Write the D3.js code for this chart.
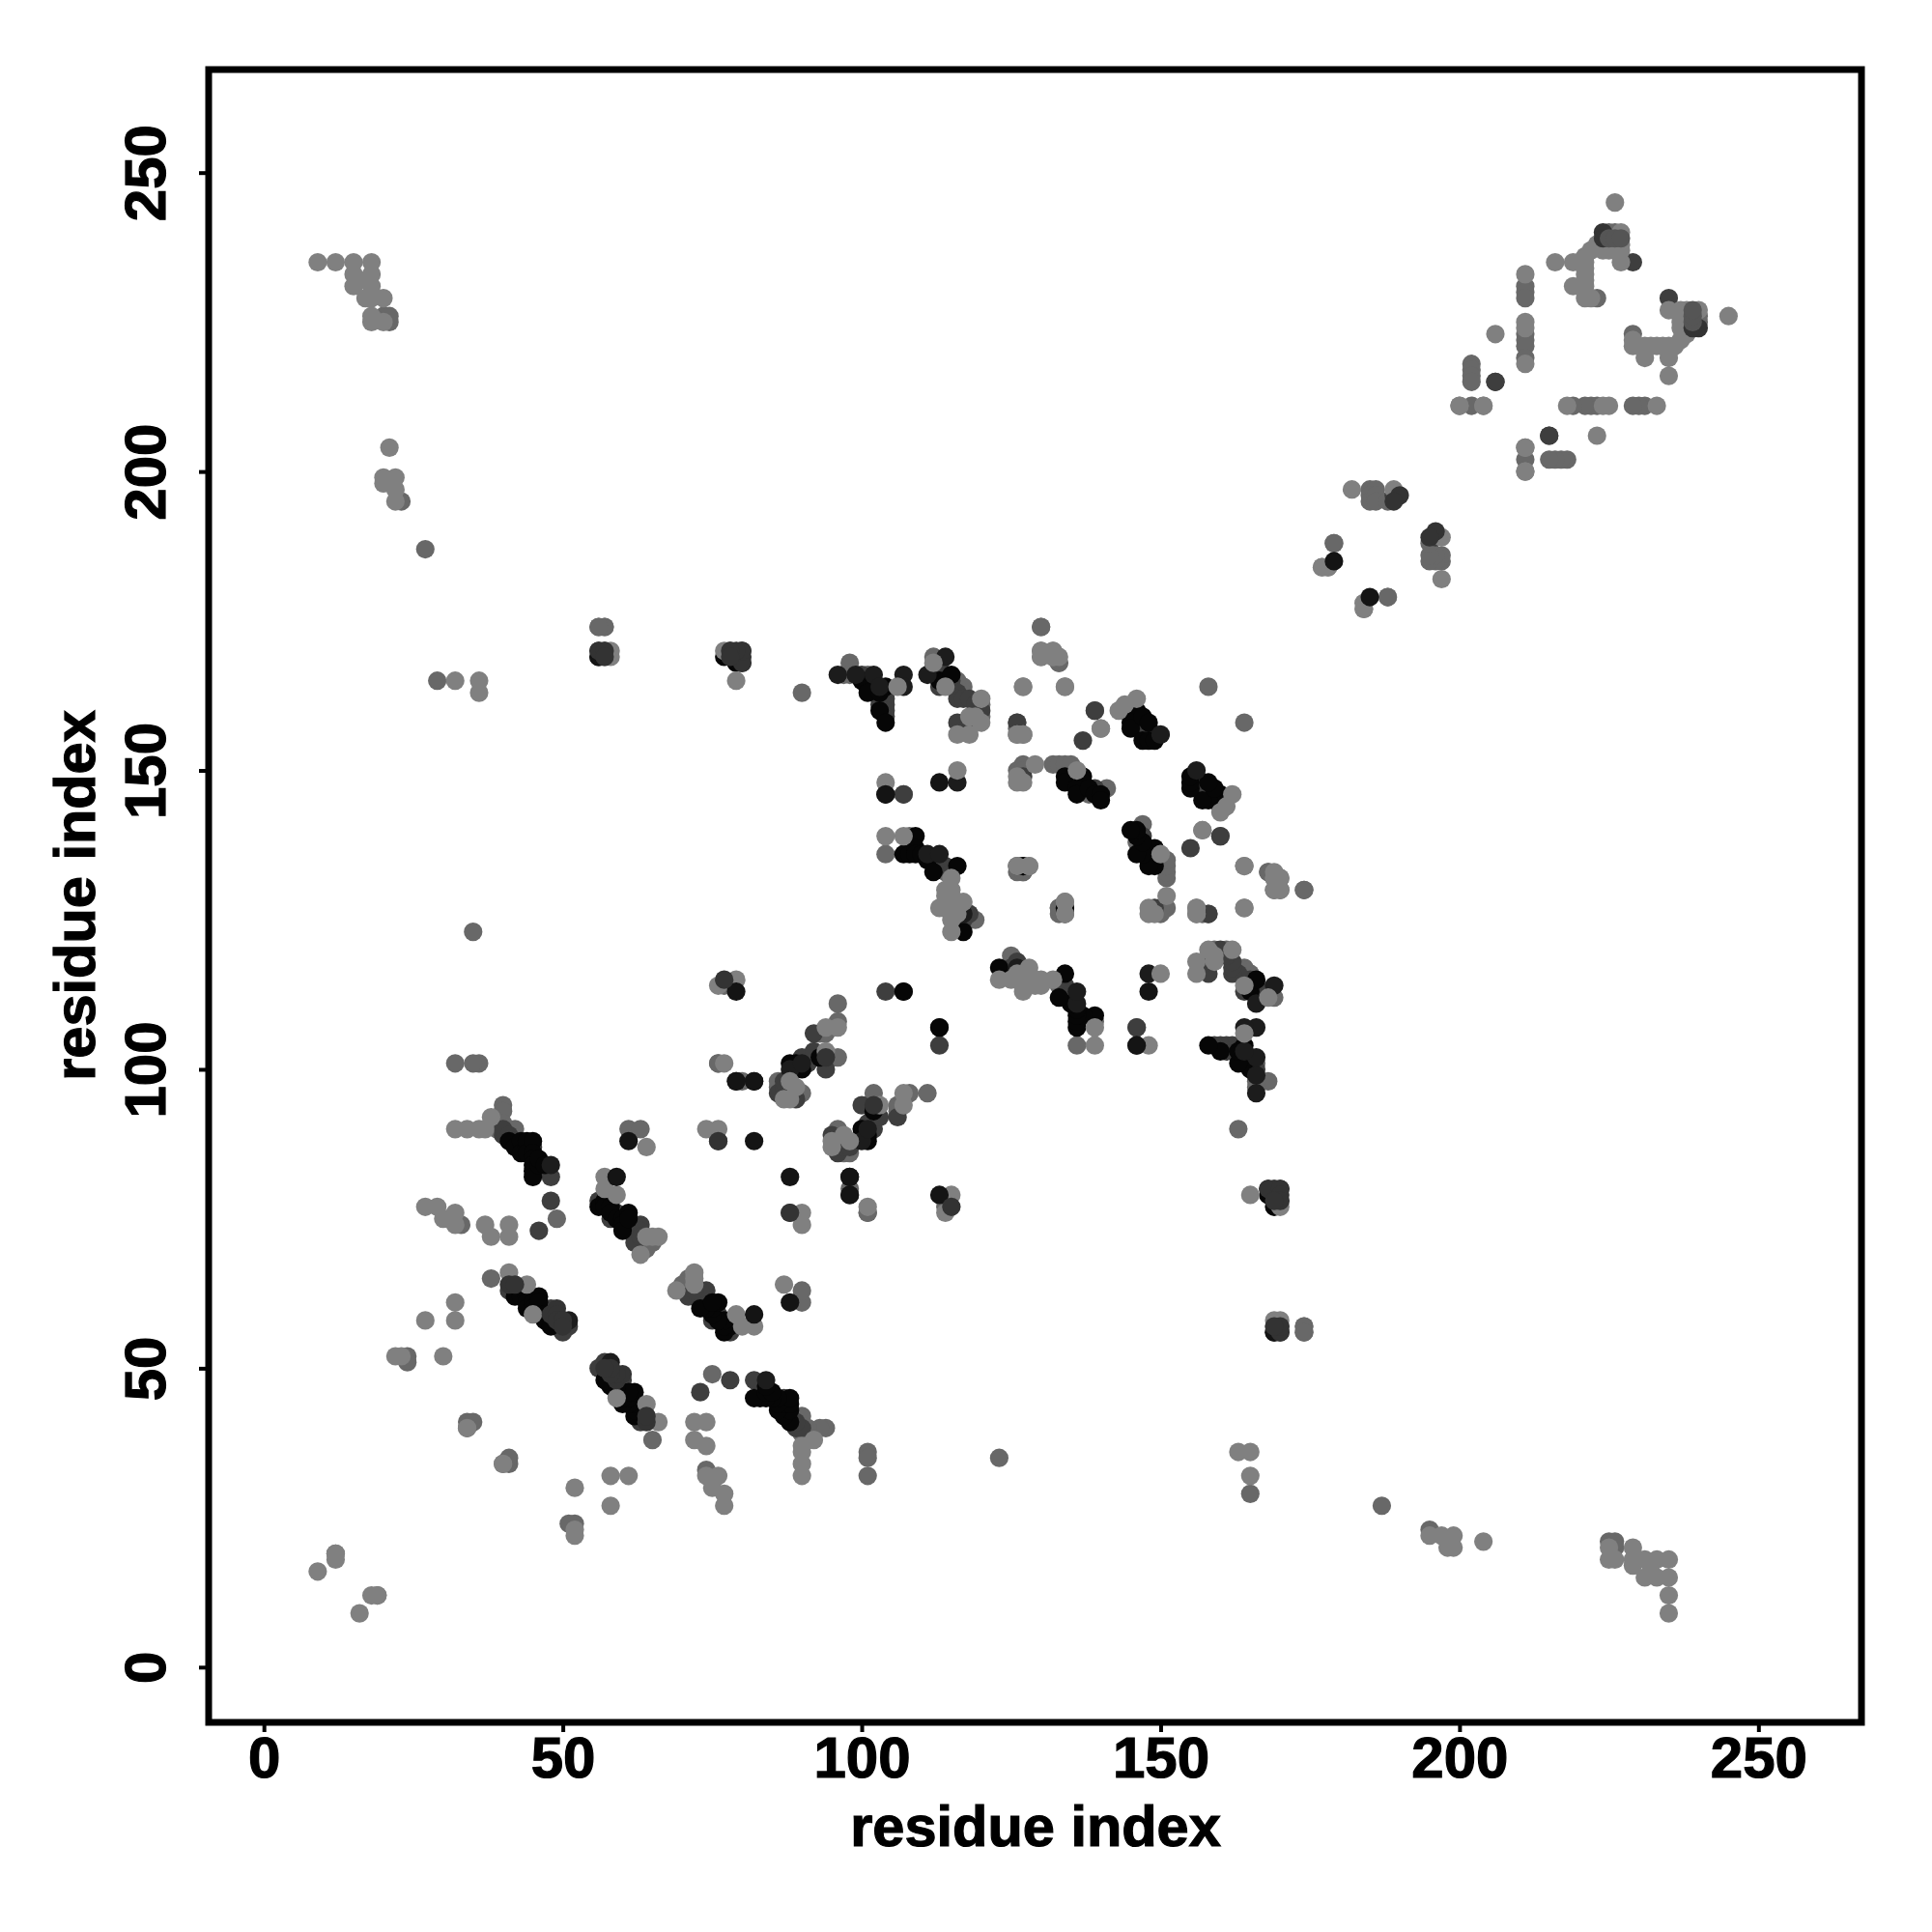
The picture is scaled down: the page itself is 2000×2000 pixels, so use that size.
<!DOCTYPE html>
<html>
<head>
<meta charset="utf-8">
<style>html,body{margin:0;padding:0;background:#fff}svg{display:block}</style>
<script src="https://cdn.jsdelivr.net/npm/d3@7"></script>
</head>
<body>
<script>
// Contact pairs [i, j] with i < j; the map is symmetric, so each pair is drawn at (i,j) and (j,i).
const lightPairs = [[9,16],[12,18],[9,235],[12,235],[15,235],[18,235],[15,233],[18,233],[15,231],[16,232],[18,231],[17,229],[18,229],[20,229],[18,226],[18,225],[20,225],[21,204],[20,199],[22,199],[20,198],[22,197],[22,195],[32,165],[36,165],[36,163],[22,52],[23,52],[30,52],[27,58],[32,58],[32,61],[34,40],[27,77],[29,77],[30,75],[32,76],[32,74],[37,74],[38,72],[41,74],[41,72],[32,90],[34,90],[36,90],[38,92],[37,90],[41,66],[44,64],[45,59],[57,82],[57,80],[59,79],[66,72],[64,72],[65,72],[63,69],[64,87],[74,90],[76,90],[76,114],[79,115],[94,107],[96,107],[94,103],[77,101],[87,95],[88,95],[88,98],[89,97],[58,170],[58,169],[77,170],[79,165],[130,170],[132,170],[132,169],[127,164],[134,164],[126,156],[127,156],[140,157],[143,160],[144,161],[146,162],[106,164],[120,162],[120,158],[118,159],[119,159],[116,156],[118,156],[104,148],[116,150],[104,139],[107,139],[115,132],[113,127],[114,130],[114,129],[115,130],[115,129],[116,128],[117,128],[115,127],[116,126],[115,123],[115,125],[126,134],[128,134],[134,128],[129,151],[126,148],[127,148],[126,149],[136,150],[157,140],[164,127],[164,134],[169,133],[169,132],[170,132],[169,130],[12,19],[156,127],[156,126],[114,164],[112,168],[226,245],[227,240],[224,237],[225,237],[226,237],[227,237],[224,238],[225,238],[226,238],[227,238],[222,237],[223,238],[221,236],[216,235],[219,235],[220,235],[221,235],[227,235],[221,234],[221,233],[221,232],[219,231],[221,231],[221,229],[222,229],[211,233],[211,225],[211,224],[211,218],[206,223],[200,211],[204,211],[211,204],[211,200],[182,197],[189,197],[177,184],[178,184],[184,178],[184,177]];
const midPairs = [[12,19],[24,52],[24,51],[33,74],[34,41],[35,41],[34,40],[40,94],[40,93],[40,91],[39,90],[42,90],[38,65],[49,75],[65,71],[64,70],[63,71],[61,90],[63,90],[76,101],[77,114],[80,98],[86,97],[86,98],[87,96],[88,97],[90,96],[94,101],[93,106],[94,106],[96,108],[35,123],[27,187],[29,165],[36,101],[35,101],[32,101],[101,76],[56,174],[57,174],[57,169],[80,169],[90,163],[130,174],[130,169],[133,168],[158,164],[98,168],[97,166],[98,166],[101,166],[112,169],[116,165],[117,164],[117,163],[120,161],[120,159],[104,136],[108,139],[107,146],[115,128],[115,126],[116,125],[119,125],[116,124],[127,133],[126,133],[133,127],[126,150],[127,151],[127,150],[132,151],[133,151],[134,151],[135,150],[135,151],[136,149],[138,146],[141,147],[160,139],[149,156],[126,157],[168,133],[170,130],[174,130],[174,57],[174,56],[114,133],[158,126],[23,195],[20,226],[21,225],[21,226],[225,240],[226,240],[223,229],[211,231],[211,230],[211,229],[211,223],[211,222],[211,221],[211,219],[202,218],[202,217],[202,216],[202,215],[211,202],[185,197],[186,197],[185,196],[185,195],[186,196],[186,195],[188,195],[179,188],[188,179],[96,102],[96,111]];
const darkPairs = [[41,63],[46,60],[47,60],[48,60],[48,58],[49,57],[50,56],[51,57],[56,78],[58,75],[59,76],[62,74],[62,73],[62,72],[62,71],[63,74],[63,73],[63,72],[40,89],[40,90],[41,89],[42,88],[45,87],[48,82],[48,78],[46,73],[76,88],[86,96],[87,97],[87,98],[88,96],[89,95],[90,102],[91,101],[92,102],[92,103],[94,100],[92,106],[104,113],[107,113],[57,170],[79,169],[126,158],[139,160],[137,155],[144,160],[146,158],[147,157],[148,156],[100,166],[102,165],[104,162],[103,161],[104,161],[104,160],[104,159],[113,164],[112,167],[113,168],[113,166],[114,166],[115,165],[116,163],[116,162],[117,162],[118,162],[119,161],[120,160],[116,158],[118,158],[112,135],[114,134],[115,133],[116,127],[117,127],[117,125],[118,126],[134,126],[127,149],[139,147],[229,235],[206,215],[215,206],[189,196],[146,107]];
const nearBlackPairs = [[51,58],[48,84],[79,98],[82,98],[96,166],[99,166],[102,166],[103,164],[107,166],[107,164],[111,166],[114,169],[116,148],[111,136],[113,136],[117,126],[146,104],[88,100],[90,101],[56,170],[78,170],[80,170],[150,156]];
const blackPairs = [[42,63],[42,62],[43,62],[44,62],[44,61],[44,60],[45,61],[45,60],[46,62],[46,61],[46,59],[47,59],[47,58],[48,57],[56,77],[57,78],[57,77],[58,77],[58,76],[59,75],[60,75],[60,74],[60,73],[61,76],[61,75],[41,88],[42,87],[43,88],[43,86],[44,87],[44,88],[44,86],[45,88],[45,86],[45,85],[45,84],[45,83],[45,82],[46,84],[46,85],[47,84],[88,101],[89,100],[89,101],[90,100],[93,102],[56,169],[77,169],[80,168],[79,168],[146,160],[145,159],[145,158],[145,157],[147,159],[148,158],[147,155],[148,155],[149,155],[100,165],[101,164],[101,163],[104,164],[103,163],[103,160],[104,158],[113,165],[114,165],[115,166],[107,136],[108,136],[109,139],[109,137],[109,136],[110,136],[111,135],[112,133],[116,134],[117,123],[127,134],[134,127],[134,149],[134,148],[137,149],[137,148],[136,147],[136,146],[138,147],[139,146],[140,146],[140,145],[113,107]];
const topBlackPairs = [[59,82],[61,88],[79,113],[82,88],[98,79],[98,82],[104,146],[113,148],[179,185],[169,56]];
const topDarkPairs = [[41,64],[42,64],[48,59],[49,60],[49,59],[49,58],[50,58],[50,57],[77,115],[76,88],[94,102],[170,56],[170,57],[169,80],[168,80],[170,80],[79,170],[169,57],[170,78],[169,78],[224,240],[224,239],[190,196],[189,195]];
const topMidPairs = [[225,239],[226,239],[227,239]];
const xyTicks = [0, 50, 100, 150, 200, 250];
const xDomain = [-9.24, 267.24];
const axisTitle = "residue index";

const layers = [
  [midPairs, "#686868"],
  [darkPairs, "#3e3e3e"],
  [blackPairs, "#060606"],
  [nearBlackPairs, "#1c1c1c"],
  [lightPairs, "#808080"],
  [topBlackPairs, "#141414"],
  [topDarkPairs, "#333333"],
  [topMidPairs, "#555555"]
];

const svg = d3.select("body").append("svg").attr("width", 2000).attr("height", 2000);
const x = d3.scaleLinear().domain(xDomain).range([216, 1927]);
const y = d3.scaleLinear().domain(xDomain).range([1783, 72]);

layers.forEach(([pairs, fill]) => {
  const both = pairs.flatMap(([i, j]) => [[i, j], [j, i]]);
  svg.append("g").selectAll("circle").data(both).join("circle")
    .attr("cx", d => x(d[0])).attr("cy", d => y(d[1])).attr("r", 9.6).attr("fill", fill);
});

const font = '"Liberation Sans", Arial, sans-serif';
const gx = svg.append("g").attr("transform", "translate(0,1783)")
  .call(d3.axisBottom(x).tickValues(xyTicks).tickSize(10).tickPadding(0).tickFormat(d3.format("d")));
const gy = svg.append("g").attr("transform", "translate(216,0)")
  .call(d3.axisLeft(y).tickValues(xyTicks).tickSize(10).tickPadding(0).tickFormat(d3.format("d")));
[gx, gy].forEach(g => {
  g.select(".domain").remove();
  g.selectAll(".tick line").attr("stroke", "#000").attr("stroke-width", 4);
  g.selectAll(".tick text").attr("fill", "#000").attr("stroke", "#000").attr("stroke-width", 1.2)
    .attr("font-family", font).attr("font-weight", "bold").attr("font-size", 60);
});
gx.selectAll(".tick text").attr("y", 57).attr("dy", 0).attr("text-anchor", "middle");
gy.selectAll(".tick text").attr("x", 0).attr("dy", 0).attr("y", 0).attr("text-anchor", "middle")
  .attr("transform", "translate(-45,0) rotate(-90)");

svg.append("rect").attr("x", 216).attr("y", 72).attr("width", 1711).attr("height", 1711)
  .attr("fill", "none").attr("stroke", "#000").attr("stroke-width", 7);

svg.append("text").attr("x", 1072).attr("y", 1911).attr("text-anchor", "middle")
  .attr("stroke", "#000").attr("stroke-width", 1.2)
  .attr("font-family", font).attr("font-weight", "bold").attr("font-size", 59.5).text(axisTitle);
svg.append("text").attr("transform", "translate(98,927) rotate(-90)").attr("text-anchor", "middle")
  .attr("stroke", "#000").attr("stroke-width", 1.2)
  .attr("font-family", font).attr("font-weight", "bold").attr("font-size", 59.5).text(axisTitle);
</script>
</body>
</html>
